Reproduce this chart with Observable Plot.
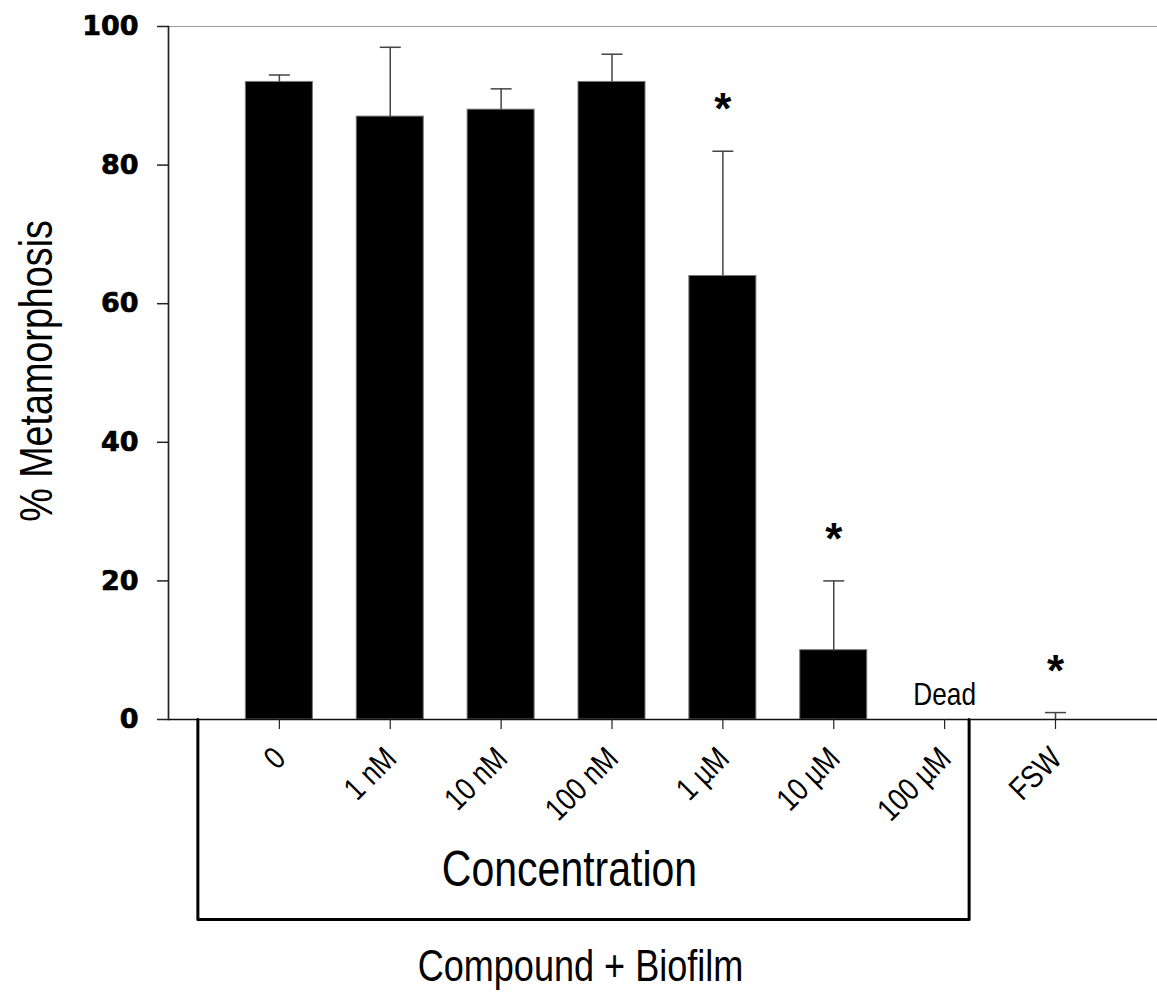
<!DOCTYPE html>
<html>
<head>
<meta charset="utf-8">
<script src="https://cdn.jsdelivr.net/npm/d3@7"></script>
<script src="https://cdn.jsdelivr.net/npm/@observablehq/plot@0.6"></script>
<style>
  html, body { margin: 0; padding: 0; background: #fff; }
  #chart svg { display: block; }
</style>
</head>
<body>
<div id="chart"></div>
<script>
// ---- data ----
const categories = ["0", "1 nM", "10 nM", "100 nM", "1 µM", "10 µM", "100 µM", "FSW"];
const meanValues = [92, 87, 88, 92, 64, 10, 0, 0];
const errValues  = [1, 10, 3, 4, 18, 10, 0, 1];
const significant = [false, false, false, false, true, true, false, true];
const deadLabels = ["", "", "", "", "", "", "Dead", ""];
const yTicks = [0, 20, 40, 60, 80, 100];
const bracketSpan = ["0", "100 µM"];   // categories covered by the bracket
const yLabel = "% Metamorphosis";
const bracketLabel = "Concentration";
const groupLabel = "Compound + Biofilm";

const rows = categories.map((c, i) => ({
  i, cat: c, value: meanValues[i], err: errValues[i],
  top: meanValues[i] + errValues[i], sig: significant[i], dead: deadLabels[i]
}));

// Arial-Narrow look: Liberation Sans compressed horizontally after render
const narrow = "'Liberation Sans', 'Arial Narrow', sans-serif";
const bold = "'DejaVu Sans', sans-serif";

const pxPerX = (1157 - 168) / 8.92;
const pxPerY = (719 - 26) / 100;
const barHalf = 33.5 / pxPerX;
const capHalf = 10.5 / pxPerX;
const bi0 = categories.indexOf(bracketSpan[0]);
const bi1 = categories.indexOf(bracketSpan[1]);
const bL = bi0 - 81.5 / pxPerX;
const bR = bi1 + 24.5 / pxPerX;
const bB = -200 / pxPerY;
const bracketPts = [[bL, 0], [bL, bB], [bR, bB], [bR, 0]];

const chart = Plot.plot({
  width: 1157,
  height: 994,
  marginLeft: 168,
  marginRight: 0,
  marginTop: 26,
  marginBottom: 275,
  x: { type: "linear", domain: [-1, 7.92], axis: null },
  y: { domain: [0, 100], axis: null },
  marks: [
    Plot.frame({ anchor: "top", stroke: "#999", strokeWidth: 1 }),
    Plot.rectY(rows.filter(d => d.value > 0), {
      x1: d => d.i - barHalf, x2: d => d.i + barHalf, y1: 0, y2: "value",
      fill: "black", stroke: "#777", strokeWidth: 1
    }),
    Plot.ruleX(rows.filter(d => d.err > 0), {
      x: "i", y1: "value", y2: "top", stroke: "#444", strokeWidth: 1.5
    }),
    Plot.link(rows.filter(d => d.err > 0), {
      x1: d => d.i - capHalf, x2: d => d.i + capHalf, y1: "top", y2: "top",
      stroke: "#444", strokeWidth: 1.5
    }),
    Plot.frame({ anchor: "bottom", stroke: "#111", strokeWidth: 1.5 }),
    Plot.frame({ anchor: "left", stroke: "#222", strokeWidth: 1.7 }),
    Plot.axisY({
      ticks: yTicks, tickSize: 11, tickPadding: 19, tickFormat: d => String(d),
      fontSize: 27, fontWeight: "bold", fontFamily: bold, fill: "black",
      stroke: "#222", strokeWidth: 1.5, label: null
    }),
    Plot.axisX({
      ticks: rows.map(d => d.i), tickSize: 10, tickFormat: () => "",
      stroke: "#222", strokeWidth: 1.2, label: null
    }),
    Plot.text(rows, {
      x: "i", frameAnchor: "bottom", text: "cat", rotate: -45,
      textAnchor: "end", lineAnchor: "bottom", dx: 8, dy: 41,
      fontSize: 32, fontFamily: narrow, fill: "black"
    }),
    Plot.text(rows.filter(d => d.sig), {
      x: "i", y: "top", text: () => "*", dy: -41,
      fontSize: 44, fontWeight: "bold", fontFamily: "'Liberation Sans', sans-serif",
      fill: "black", lineAnchor: "middle"
    }),
    Plot.text(rows.filter(d => d.dead), {
      x: "i", y: 0, text: "dead", dy: -15, lineAnchor: "bottom",
      fontSize: 32, fontFamily: narrow, fill: "black"
    }),
    Plot.line(bracketPts, { x: d => d[0], y: d => d[1], stroke: "black", strokeWidth: 3, curve: "linear" }),
    Plot.text([bracketLabel], {
      frameAnchor: "bottom", text: d => d, dx: -93.5, dy: 166,
      lineAnchor: "bottom", fontSize: 50, fontFamily: narrow, fill: "black"
    }),
    Plot.text([groupLabel], {
      frameAnchor: "bottom", text: d => d, dx: -82.5, dy: 261,
      lineAnchor: "bottom", fontSize: 44, fontFamily: narrow, fill: "black"
    }),
    Plot.text([yLabel], {
      frameAnchor: "left", text: d => d, rotate: -90, dx: -117, dy: -2,
      textAnchor: "middle", lineAnchor: "bottom",
      fontSize: 46, fontFamily: narrow, fill: "black"
    })
  ]
});

// compress the "narrow" texts horizontally (in their own rotated frame);
// thicken the bold y tick labels
d3.select(chart).selectAll("text").each(function () {
  const host = this.closest("[font-family]");
  const ff = host ? host.getAttribute("font-family") : "";
  if (ff && ff.includes("Narrow")) {
    const t = this.getAttribute("transform") || "";
    this.setAttribute("transform", (t + " scale(0.82,1)").trim());
  } else if (ff && ff.includes("DejaVu")) {
    this.setAttribute("stroke", "black");
    this.setAttribute("stroke-width", "0.7");
  }
});

document.getElementById("chart").appendChild(chart);
</script>
</body>
</html>
